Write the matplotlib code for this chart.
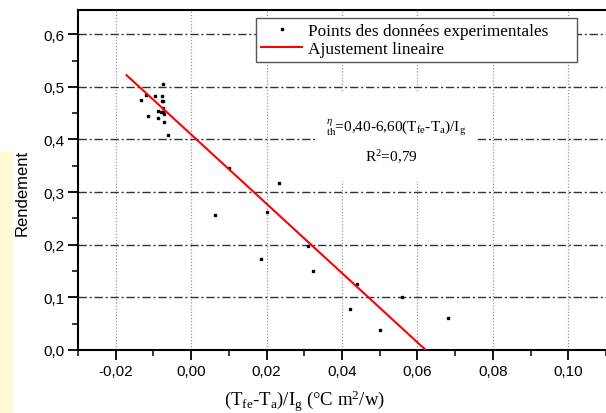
import matplotlib
matplotlib.use("Agg")
import matplotlib.pyplot as plt
from matplotlib.patches import Rectangle
from matplotlib.ticker import MultipleLocator, FuncFormatter

# points
pts_x = [-0.0074, -0.0120, -0.0096, -0.0078, -0.0132, -0.0078, -0.0075, -0.0075,
         -0.0087, -0.0081, -0.0074, -0.0071, -0.0114, -0.0089, -0.0072, -0.0062,
         0.0101, 0.0234, 0.0063, 0.0200, 0.0185, 0.0311, 0.0323, 0.0439,
         0.0421, 0.0501, 0.0559, 0.0680]
pts_y = [0.506, 0.485, 0.482, 0.482, 0.475, 0.473, 0.473, 0.460,
         0.454, 0.453, 0.452, 0.449, 0.445, 0.441, 0.433, 0.408,
         0.345, 0.317, 0.257, 0.263, 0.172, 0.198, 0.151, 0.125,
         0.078, 0.038, 0.100, 0.060]

# linear fit line ends
fit_x = [-0.0171, 0.0622]
fit_y = [0.522, 0.0]

plt.rcParams["mathtext.fontset"] = "custom"
plt.rcParams["mathtext.rm"] = "Liberation Serif"
plt.rcParams["mathtext.it"] = "Liberation Serif:italic"
plt.rcParams["mathtext.bf"] = "Liberation Serif:bold"

fig = plt.figure(figsize=(6.06, 4.14), dpi=100)

# pale yellow strip on the left edge of the scan
fig.patches.append(Rectangle((0, 0), 13 / 606, 261 / 414, transform=fig.transFigure,
                             facecolor="#fffbd2", edgecolor="none", zorder=0))

ax = fig.add_axes([78 / 606, 63 / 414, 528 / 606, 340 / 414])
ax.set_xlim(-0.03, 0.11)
ax.set_ylim(0, 0.646)
ax.set_axisbelow(True)

ax.xaxis.set_major_locator(MultipleLocator(0.02))
ax.xaxis.set_minor_locator(MultipleLocator(0.01))
ax.yaxis.set_major_locator(MultipleLocator(0.1))
ax.yaxis.set_minor_locator(MultipleLocator(0.05))
ax.xaxis.set_major_formatter(FuncFormatter(lambda v, p: ("%.2f" % v).replace(".", ",")))
ax.yaxis.set_major_formatter(FuncFormatter(lambda v, p: ("%.1f" % v).replace(".", ",")))

ax.tick_params(which="major", direction="out", length=7, width=1.3, labelsize=11, pad=3)
ax.tick_params(which="minor", direction="out", length=4, width=1.1)
for lab in ax.get_xticklabels() + ax.get_yticklabels():
    lab.set_fontfamily("Liberation Sans")

for s in ["left", "bottom", "top"]:
    ax.spines[s].set_linewidth(1.5)
ax.spines["right"].set_visible(False)

ax.grid(axis="y", which="major", color="#333333", linestyle=(0, (6, 2, 1.5, 2)), linewidth=1.0)
ax.grid(axis="x", which="major", color="#999999", linestyle=(0, (1, 1.5)), linewidth=0.9)

# white area behind the equation
ax.add_patch(Rectangle((0.0329, 0.321), 0.0424, 0.168, facecolor="white",
                       edgecolor="none", zorder=1))

ax.plot(pts_x, pts_y, "s", color="black", markersize=2.0, linestyle="none",
        label="Points des données experimentales", zorder=3)
ax.plot(fit_x, fit_y, "-", color="red", linewidth=1.5, label="Ajustement lineaire", zorder=3)

leg = ax.legend(loc="upper left", bbox_to_anchor=(0.337, 0.856, 0.608, 0.12), mode="expand",
                borderaxespad=0, fancybox=False, framealpha=1, edgecolor="#555555",
                prop={"family": "Liberation Serif", "size": 12.4}, handlelength=2.4,
                handletextpad=0.35, labelspacing=0.1, borderpad=0.3)
leg.get_frame().set_linewidth(1.0)

ax.text(0.0543, 0.425, r"${}^{\eta}_{\mathrm{th}}$=0,40-6,60(T$_{\mathrm{fe}}$-T$_{\mathrm{a}}$)/I$_{\mathrm{g}}$",
        family="Liberation Serif", fontsize=11, ha="center", va="center", zorder=2)
ax.text(0.0530, 0.368, r"R$^{2}$=0,79", family="Liberation Serif", fontsize=11,
        ha="center", va="center", zorder=2)

fig.text(22 / 606, 1 - 193 / 414, "Rendement", rotation=90, family="Liberation Sans",
         fontsize=12, ha="center", va="center")
fig.text(305 / 606, 1 - 401 / 414,
         r"(T$_{\mathrm{fe}}$-T$_{\mathrm{a}}$)/I$_{\mathrm{g}}$ (°C m$^{2}$/w)",
         family="Liberation Serif", fontsize=13.5, ha="center", va="center")

fig.savefig("out.png", dpi=100)
